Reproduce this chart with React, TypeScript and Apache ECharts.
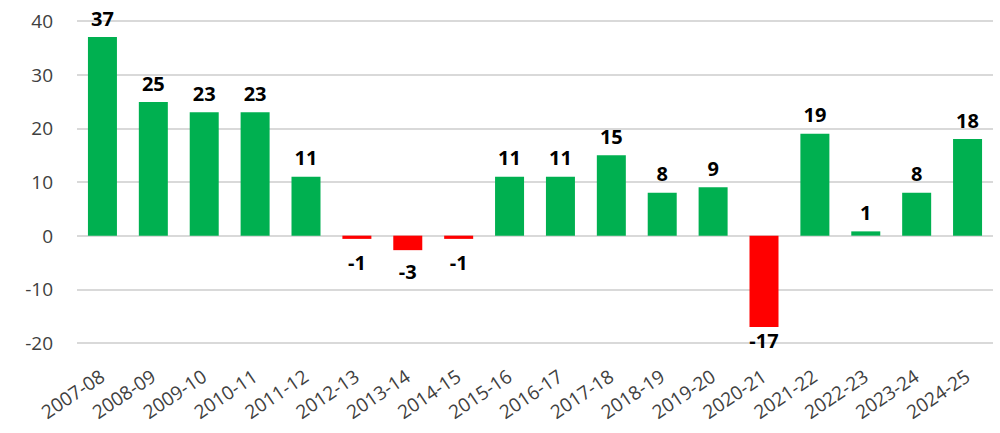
import React, { useEffect, useRef } from "react";
import * as echarts from "echarts";

const categories = [
  "2007-08", "2008-09", "2009-10", "2010-11", "2011-12", "2012-13", "2013-14", "2014-15", "2015-16",
  "2016-17", "2017-18", "2018-19", "2019-20", "2020-21", "2021-22", "2022-23", "2023-24", "2024-25",
];
const values = [37, 24.9, 23, 23, 11, -0.6, -2.7, -0.6, 11, 11, 15, 8, 9, -17, 19, 0.8, 8, 18];
const yTicks = { min: -20, max: 40, interval: 10 };

const GREEN = "#00B050";
const RED = "#FF0000";

export default function App() {
  const ref = useRef<HTMLDivElement>(null);
  useEffect(() => {
    if (!ref.current) return;
    const chart = echarts.init(ref.current, undefined, { renderer: "svg" });
    chart.setOption({
      animation: false,
      textStyle: { fontFamily: "Open Sans" },
      grid: { left: 77, right: 7, top: 21, bottom: 90, containLabel: false },
      xAxis: {
        type: "category",
        data: categories,
        axisLine: { show: false, onZero: false },
        axisTick: { show: false },
        axisLabel: {
          rotate: 34,
          interval: 0,
          fontSize: 19,
          color: "#404040",
          fontFamily: "Open Sans",
          margin: 31,
        },
      },
      yAxis: {
        type: "value",
        min: yTicks.min,
        max: yTicks.max,
        interval: yTicks.interval,
        axisLine: { show: false },
        axisTick: { show: false },
        splitLine: { lineStyle: { color: "#D9D9D9", width: 2 } },
        axisLabel: { fontSize: 19, color: "#404040", fontFamily: "Open Sans", margin: 24 },
      },
      series: [
        {
          type: "bar",
          barWidth: 29,
          data: values.map((v) => ({
            value: v,
            itemStyle: { color: v < 0 ? RED : GREEN },
            label: {
              position: v < 0 ? "bottom" : "top",
              distance: v < 0 ? (v > -1 ? 14 : v > -5 ? 11 : 4) : 9,
            },
          })),
          label: {
            show: true,
            fontSize: 20,
            fontWeight: "bold",
            color: "#000",
            fontFamily: "Open Sans",
            formatter: (p: any) => String(Math.round(p.value)),
          },
        },
      ],
    });
    return () => chart.dispose();
  }, []);
  return <div ref={ref} style={{ width: 1000, height: 433, position: "absolute", left: 0, top: 0 }} />;
}
